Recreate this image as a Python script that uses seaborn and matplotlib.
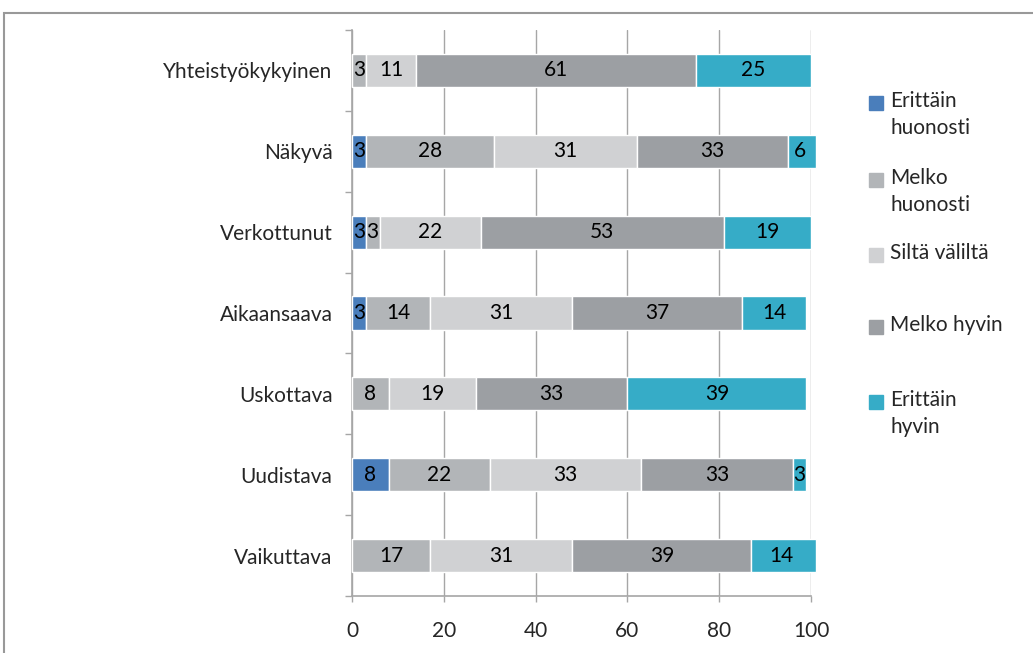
import matplotlib
matplotlib.use("Agg")
import matplotlib.pyplot as plt
import matplotlib.patches as mpatches
from matplotlib.ticker import MultipleLocator
import seaborn as sns
import numpy as np

categories = ["Yhteistyökykyinen", "Näkyvä", "Verkottunut", "Aikaansaava",
              "Uskottava", "Uudistava", "Vaikuttava"]
series = ["Erittäin\nhuonosti", "Melko\nhuonosti", "Siltä väliltä",
          "Melko hyvin", "Erittäin\nhyvin"]
erittain_huonosti = [0, 3, 3, 3, 0, 8, 0]
melko_huonosti = [3, 28, 3, 14, 8, 22, 17]
silta_valilta = [11, 31, 22, 31, 19, 33, 31]
melko_hyvin = [61, 33, 53, 37, 33, 33, 39]
erittain_hyvin = [25, 6, 19, 14, 39, 3, 14]
colors = ["#4a7ebb", "#b2b5b8", "#d0d1d3", "#9c9fa3", "#36acc7"]

sns.set_style("white")
plt.rcParams["font.family"] = ["Lato", "DejaVu Sans"]
FS = 15

fig = plt.figure(figsize=(10.33, 6.53), dpi=100)
ax = fig.add_axes([352 / 1033, 1 - 596 / 653, (811 - 352) / 1033, (596 - 30) / 653])

values = [erittain_huonosti, melko_huonosti, silta_valilta, melko_hyvin, erittain_hyvin]
left = np.zeros(len(categories))
for vals, col in zip(values, colors):
    sns.barplot(x=vals, y=categories, orient="h", color=col, saturation=1,
                width=0.41, left=left, ax=ax, zorder=3, clip_on=False)
    cont = ax.containers[-1]
    ax.bar_label(cont, labels=[str(v) if v else "" for v in vals],
                 label_type="center", fontsize=FS, color="black")
    left = left + np.array(vals)

ax.set_xlim(0, 100)
ax.set_ylim(len(categories) - 0.5, -0.5)
ax.xaxis.set_major_locator(MultipleLocator(20))
ax.grid(axis="x", color="#a6a6a6", linewidth=1, zorder=0)
ax.set_axisbelow(True)
for s in ["top", "right"]:
    ax.spines[s].set_visible(False)
for s in ["left", "bottom"]:
    ax.spines[s].set_color("#a6a6a6")
    ax.spines[s].set_linewidth(1.2)
ax.set_xlabel("")
ax.set_ylabel("")
ax.tick_params(axis="x", direction="out", length=4, width=1, color="#a6a6a6",
               pad=14, labelsize=FS, bottom=True)
ax.set_yticks(np.arange(-0.5, len(categories)), minor=True)
ax.tick_params(axis="y", which="major", length=0, pad=14, labelsize=FS)
ax.tick_params(axis="y", which="minor", direction="out", length=5, width=1,
               color="#a6a6a6", left=True)

# legend drawn by hand so the square sits beside the first line
leg_y = [103, 180, 255, 327, 402]
for lab, col, yy in zip(series, colors, leg_y):
    fig.patches.append(mpatches.Rectangle((869 / 1033, 1 - (yy + 7) / 653), 14 / 1033, 14 / 653,
                                          transform=fig.transFigure, color=col))
    fig.text(890 / 1033, 1 - (yy - 12) / 653, lab, fontsize=FS, va="top", ha="left",
             linespacing=1.45)

# outer frame
fig.patches.append(mpatches.Rectangle((4 / 1033, -0.05), 1.1, 1 - 13 / 653 + 0.05,
                                      transform=fig.transFigure, fill=False,
                                      edgecolor="#999999", linewidth=1.5))

fig.savefig("out.png", dpi=100)
